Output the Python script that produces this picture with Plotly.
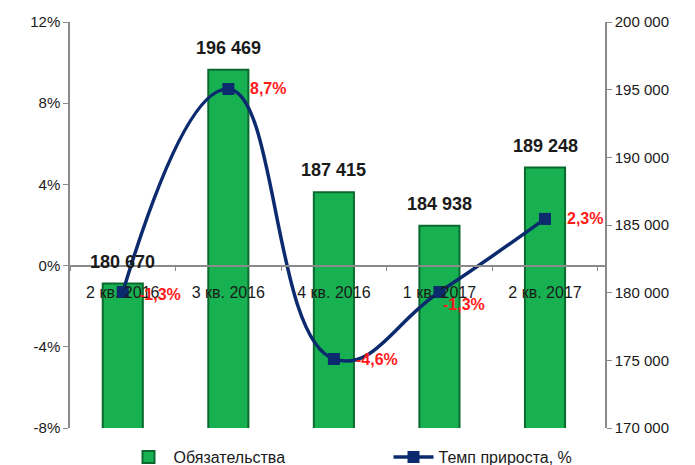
import plotly.graph_objects as go

categories = ["2 кв. 2016", "3 кв. 2016", "4 кв. 2016", "1 кв. 2017", "2 кв. 2017"]
liabilities = [180670, 196469, 187415, 184938, 189248]
growth_pct = [-1.3, 8.7, -4.6, -1.3, 2.3]
pct_ticks = [-8, -4, 0, 4, 8, 12]
pct_ticktext = ["-8%", "-4%", "0%", "4%", "8%", "12%"]
pct_range = [-8, 12]

bar_name = "Обязательства"
line_name = "Темп прироста, %"

FONT = "Liberation Sans"
NAVY = "#0c2a6e"

W, H = 695, 465
TOP, BOTTOM = 22, 37
plot_h = H - TOP - BOTTOM
zero_frac = (0 - pct_range[0]) / (pct_range[1] - pct_range[0])
legend_y = -(457 - (H - BOTTOM)) / plot_h

fig = go.Figure()

fig.add_trace(go.Bar(
    x=categories, y=liabilities, name=bar_name, yaxis="y",
    marker=dict(color="#18b152", line=dict(color="#0a6a2e", width=2)),
    width=0.38,
))

fig.add_trace(go.Scatter(
    x=categories, y=growth_pct, name=line_name, yaxis="y2",
    mode="lines+markers",
    line=dict(color=NAVY, width=3.5, shape="spline", smoothing=1.3),
    marker=dict(symbol="square", size=12, color=NAVY),
))

def fmt_thousands(v):
    return f"{v:,}".replace(",", " ")

def fmt_pct(v):
    return f"{v:.1f}".replace(".", ",") + "%"

annotations = []
for c, v in zip(categories, liabilities):
    annotations.append(dict(
        x=c, y=v, xref="x", yref="y", text=f"<b>{fmt_thousands(v)}</b>",
        showarrow=False, yshift=22, font=dict(family=FONT, size=18, color="#1a1a1a"),
    ))

label_offsets = [(14, -3), (20, 0), (20, -1), (2, -13), (20, 0)]
for c, v, (dx, dy) in zip(categories, growth_pct, label_offsets):
    annotations.append(dict(
        x=c, y=v, xref="x", yref="y2", text=f"<b>{fmt_pct(v)}</b>",
        showarrow=False, xanchor="left", xshift=dx, yshift=dy,
        font=dict(family=FONT, size=16, color="#ff1a1a"),
    ))

fig.update_layout(
    width=W, height=H,
    margin=dict(l=70, r=90, t=TOP, b=BOTTOM, autoexpand=False),
    paper_bgcolor="white", plot_bgcolor="white",
    font=dict(family=FONT, size=15, color="#1a1a1a"),
    separators=", ",
    showlegend=True,
    legend=dict(orientation="h", x=0.1, xanchor="left", y=legend_y, yanchor="middle",
                font=dict(family=FONT, size=16, color="#1a1a1a"), entrywidth=210,
                itemwidth=40, bgcolor="rgba(0,0,0,0)"),
    xaxis=dict(
        anchor="free", position=zero_frac, showline=True, linecolor="#8a8a8a", linewidth=1.5,
        ticks="outside", tickson="boundaries", ticklen=5, tickcolor="#8a8a8a",
        showgrid=False, ticklabelstandoff=12,
        tickfont=dict(family=FONT, size=16, color="#1a1a1a"),
    ),
    yaxis=dict(
        range=[170000, 200000], dtick=5000, tickformat=",d", side="right",
        showgrid=False, zeroline=False, showline=True, linecolor="#8a8a8a", linewidth=1.5,
        ticks="outside", ticklen=5, tickcolor="#8a8a8a",
        tickfont=dict(family=FONT, size=15, color="#1a1a1a"),
    ),
    yaxis2=dict(
        range=pct_range, tickvals=pct_ticks, ticktext=pct_ticktext, overlaying="y", side="left",
        showgrid=False, zeroline=False,
        showline=True, linecolor="#8a8a8a", linewidth=1.5, ticks="outside",
        ticklen=5, tickcolor="#8a8a8a",
        tickfont=dict(family=FONT, size=15, color="#1a1a1a"),
    ),
    annotations=annotations,
)

fig.write_html("out.html")
